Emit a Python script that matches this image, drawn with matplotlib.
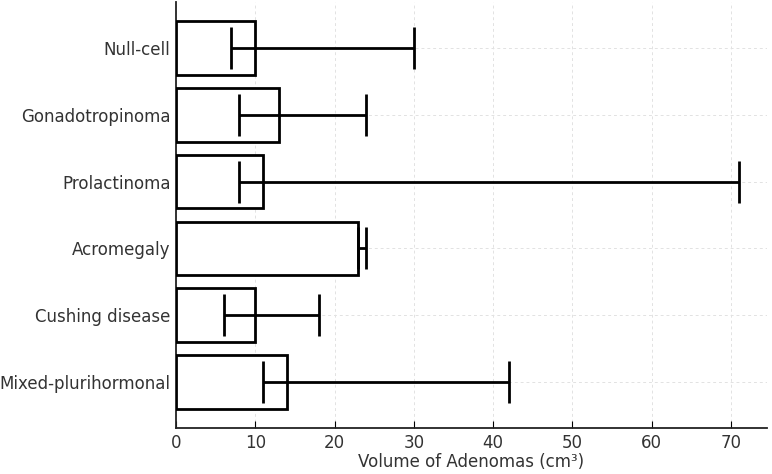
import matplotlib
matplotlib.use("Agg")
import matplotlib.pyplot as plt
import numpy as np

categories = ["Null-cell", "Gonadotropinoma", "Prolactinoma", "Acromegaly",
              "Cushing disease", "Mixed-plurihormonal"]
median_vol = [10, 13, 11, 23, 10, 14]
min_vol = [7, 8, 8, 23, 6, 11]
max_vol = [30, 24, 71, 24, 18, 42]
xticks = [0, 10, 20, 30, 40, 50, 60, 70]

fig = plt.figure(figsize=(7.72, 4.74), dpi=100)
ax = fig.add_axes([176/772, 46/474, (767-176)/772, (472-46)/474])

y = np.arange(len(categories))
med = np.array(median_vol, dtype=float)
lo = med - np.array(min_vol, dtype=float)
hi = np.array(max_vol, dtype=float) - med

ax.barh(y, med, height=0.8, color="white", edgecolor="black", linewidth=2,
        xerr=[lo, hi], capsize=15,
        error_kw=dict(ecolor="black", elinewidth=2, capthick=2), zorder=3)
ax.invert_yaxis()
ax.set_yticks(y)
ax.set_yticklabels(categories)
ax.set_xticks(xticks)
ax.set_xlabel("Volume of Adenomas (cm³)", fontsize=12, color="#333333", labelpad=1)
ax.tick_params(direction="in", labelsize=12, labelcolor="#333333", length=5, pad=4)
ax.grid(True, linestyle=(0, (3, 3)), color="#e2e2e2", linewidth=0.7, zorder=0)
ax.set_axisbelow(True)
for s in ["top", "right"]:
    ax.spines[s].set_visible(False)
for s in ["left", "bottom"]:
    ax.spines[s].set_linewidth(1.3)
    ax.spines[s].set_color("#222222")

fig.savefig("out.png", dpi=100)
